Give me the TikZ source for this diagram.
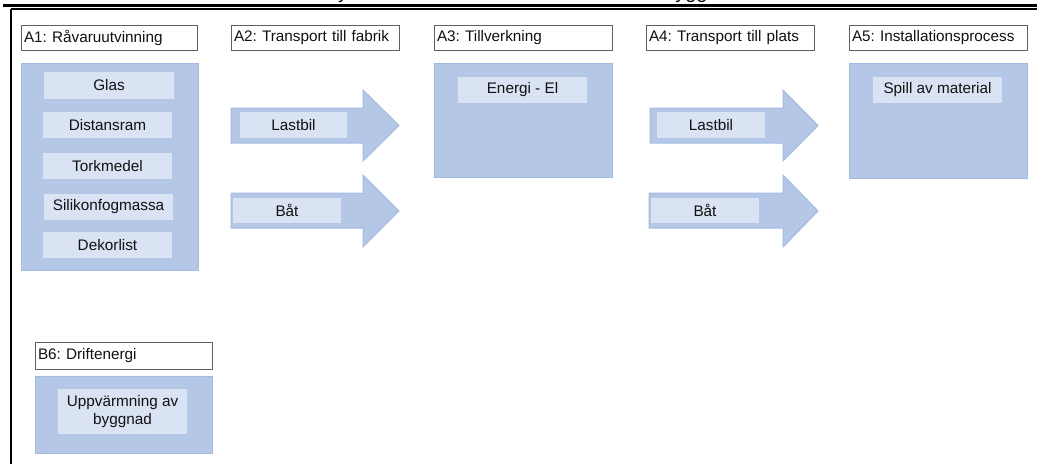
\documentclass[tikz,border=0pt]{standalone}
\usepackage{fontspec}
\setmainfont{Liberation Sans}
\frenchspacing
\definecolor{bigfill}{HTML}{B4C7E7}
\definecolor{bigdraw}{HTML}{A3BAE3}
\definecolor{innerfill}{HTML}{DAE3F3}
\definecolor{hdrdraw}{HTML}{606060}
\definecolor{txt}{HTML}{111111}
\tikzset{
  every node/.style={font=\fontsize{15.3}{18}\selectfont, text=txt},
  hdr/.style={draw=hdrdraw, line width=1pt, fill=white, inner xsep=3pt, inner ysep=0pt, align=left},
  bigbox/.style={draw=bigdraw, fill=bigfill, line width=1pt, inner sep=0pt},
  innerbox/.style={fill=innerfill, inner sep=0pt, align=center},
  arrowshape/.style={draw=bigdraw, fill=bigfill, line width=1pt, line join=miter},
  frame/.style={draw=black}
}
\begin{document}
\begin{tikzpicture}[x=1pt,y=-1pt]
\useasboundingbox (0,0) rectangle (1037,464);
% frame lines
\coordinate (tl0) at (3,5.3);
\coordinate (tr0) at (1037,5.3);
\coordinate (tl1) at (11,9);
\coordinate (tr1) at (1037,9);
\coordinate (bl) at (11,464);
\draw[frame, line width=2.6pt] (tl0) -- (tr0);
\draw[frame, line width=1.5pt] (tl1) -- (tr1);
\draw[frame, line width=2pt] (tl1) -- (bl);
% clipped title fragments
\begin{scope}
\clip (0,0) rectangle (1037,3.3);
\node[font=\fontsize{20}{24}\selectfont, anchor=base, inner sep=0pt] (t1) at (343,-1.2) {y};
\node[font=\fontsize{20}{24}\selectfont, anchor=base west, inner sep=0pt] (t2) at (664,-1.2) {bygg};
\end{scope}

% header boxes
\node[hdr, text width=170, minimum height=25] (h1) at (109,37.5) {A1: Råvaruutvinning};
\node[hdr, text width=162, minimum height=25] (h2) at (315,37.5) {A2: Transport till fabrik};
\node[hdr, text width=172, minimum height=25] (h3) at (523,37.5) {A3: Tillverkning};
\node[hdr, text width=162, minimum height=25] (h4) at (730,37.5) {A4: Transport till plats};
\node[hdr, text width=172, minimum height=25] (h5) at (938,37.5) {A5: Installationsprocess};
\node[hdr, text width=171, minimum height=27] (h6) at (123.5,355.5) {B6: Driftenergi};

% big boxes
\node[bigbox, minimum width=177, minimum height=207] (b1) at (109.5,166.5) {};
\node[bigbox, minimum width=178, minimum height=114] (b3) at (523,120) {};
\node[bigbox, minimum width=178, minimum height=115] (b5) at (938,120.5) {};
\node[bigbox, minimum width=177, minimum height=77] (b6) at (123.5,414.5) {};

% arrows
\draw[arrowshape] (231,108) -- (363,108) -- (363,90) -- (399,125.5) -- (363,161) -- (363,143) -- (231,143) -- cycle;
\draw[arrowshape] (231,193) -- (363,193) -- (363,175) -- (399,211) -- (363,247) -- (363,228) -- (231,228) -- cycle;
\draw[arrowshape] (650,108) -- (783,108) -- (783,90) -- (818,125.5) -- (783,161) -- (783,143) -- (650,143) -- cycle;
\draw[arrowshape] (649,193) -- (783,193) -- (783,175) -- (818,211) -- (783,247) -- (783,228) -- (649,228) -- cycle;

% inner boxes
\node[innerbox, minimum width=130, minimum height=27] (glas) at (109,85.5) {Glas};
\node[innerbox, minimum width=129, minimum height=26] (dist) at (107.5,125) {Distansram};
\node[innerbox, minimum width=129, minimum height=26] (tork) at (107.5,166) {Torkmedel};
\node[innerbox, minimum width=129, minimum height=26] (sili) at (108.5,207) {Silikonfogmassa};
\node[innerbox, minimum width=129, minimum height=26] (deko) at (107.5,245) {Dekorlist};
\node[innerbox, minimum width=107, minimum height=26] (last1) at (293.5,125) {Lastbil};
\node[innerbox, minimum width=108, minimum height=25] (bat1) at (287,210.5) {Båt};
\node[innerbox, minimum width=129, minimum height=26] (ener) at (522.5,90) {Energi - El};
\node[innerbox, minimum width=108, minimum height=26] (last2) at (711,125) {Lastbil};
\node[innerbox, minimum width=108, minimum height=25] (bat2) at (705,210.5) {Båt};
\node[innerbox, minimum width=129, minimum height=26] (spill) at (937.5,90) {Spill av material};
\node[innerbox, minimum width=129, minimum height=45] (uppv) at (122.5,411.5) {Uppvärmning av\\byggnad};
\end{tikzpicture}
\end{document}
